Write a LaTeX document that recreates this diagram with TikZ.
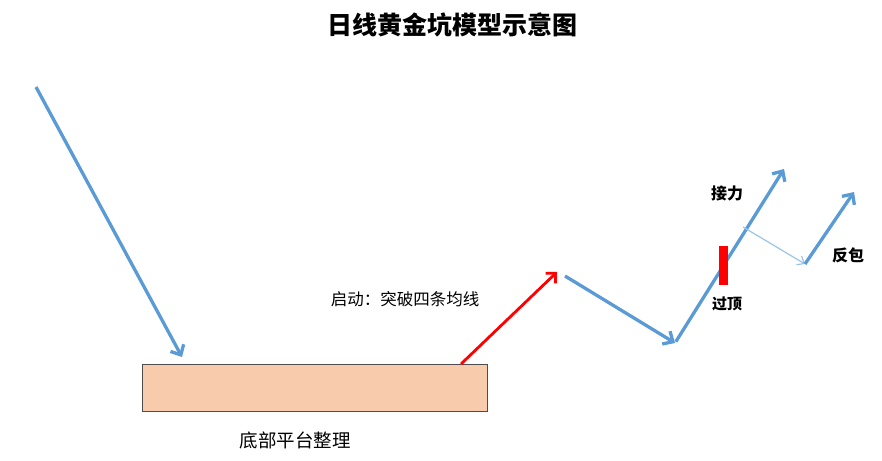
\documentclass[tikz,border=0pt]{standalone}
\usepackage{fontspec}
\newfontfamily\cjk{Noto Sans CJK SC}
\usetikzlibrary{arrows.meta}
\definecolor{bl}{HTML}{5B9BD5}
\definecolor{lbl}{HTML}{9DC3E6}
\definecolor{peach}{HTML}{F8CBAD}
\definecolor{rd}{HTML}{FF0000}
\tikzset{
  bluearrow/.style={draw=bl, line width=3.3pt, -{Straight Barb[length=8pt,width=15pt,line width=3.3pt]}},
  thinarrow/.style={draw=lbl, line width=1.2pt, -{Straight Barb[length=6pt,width=10pt,line width=1.2pt]}},
  redarrow/.style={draw=rd, line width=2.8pt, -{Straight Barb[length=7pt,width=14pt,line width=2.8pt]}},
  lab/.style={inner sep=0pt, font=\cjk},
}
\begin{document}
\begin{tikzpicture}[x=1pt,y=-1pt]
\useasboundingbox (0,0) rectangle (882,460);
\node[lab, font=\cjk\bfseries\fontsize{25}{28}\selectfont] (title) at (452,25) {日线黄金坑模型示意图};
\node[draw=black!70, fill=peach, line width=0.8pt, minimum width=345pt, minimum height=47pt, inner sep=0pt, anchor=north west] (base) at (142,364) {};
\node[lab, font=\cjk\fontsize{18.5}{20}\selectfont] (baselab) at (295,440) {底部平台整理};
\node[lab, font=\cjk\fontsize{16.5}{18}\selectfont] (start) at (405,299) {启动：突破四条均线};
\coordinate (a0) at (36,87);
\coordinate (a1) at (182,357);
\coordinate (r0) at (461,364);
\coordinate (r1) at (557,272);
\coordinate (b0) at (565,276);
\coordinate (b1) at (675,343);
\coordinate (b2) at (784,169);
\coordinate (t0) at (743,227);
\coordinate (t1) at (805,264);
\coordinate (c1) at (854,192);
\draw[bluearrow] (a0) -- (a1);
\draw[redarrow] (r0) -- (r1);
\draw[bluearrow] (b0) -- (b1);
\draw[bluearrow, shorten <=1.5pt] (b1) -- (b2);
\draw[thinarrow] (t0) -- (t1);
\draw[bluearrow] (t1) -- (c1);
\node[fill=rd, minimum width=9pt, minimum height=39pt, inner sep=0pt, anchor=north west] (bar) at (719,246) {};
\node[lab, font=\cjk\bfseries\fontsize{16}{18}\selectfont] (jieli) at (727,193) {接力};
\node[lab, font=\cjk\bfseries\fontsize{16}{18}\selectfont] (fanbao) at (848,255) {反包};
\node[lab, font=\cjk\bfseries\fontsize{15}{17}\selectfont] (guoding) at (727,304) {过顶};
\end{tikzpicture}
\end{document}
